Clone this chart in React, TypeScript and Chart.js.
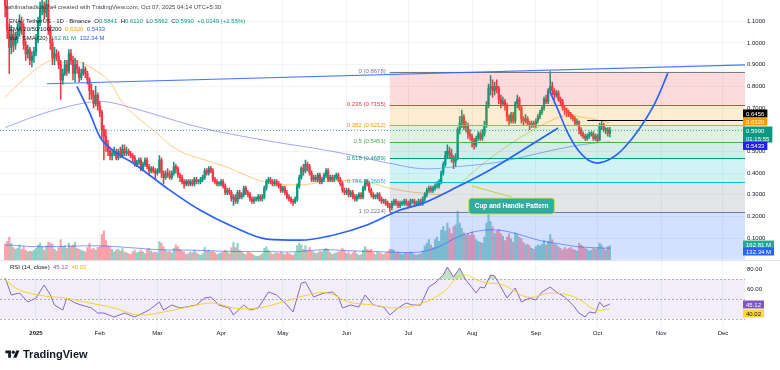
import React, { useEffect, useRef } from 'react';
import { Chart, registerables } from 'chart.js';
Chart.register(...registerables);

const FF = '"Liberation Sans", Arial, sans-serif';

// ---------- DATA ----------
// first candle = Dec 17, 2024 (day -15 relative to Jan 1, 2025)
const FIRST_DAY = -15;
const firstOpen = 1.25;
const closes = [
  // Dec 17-31
  1.17,1.06,0.98,1.04,0.99,1.02,1.05,1.10,1.07,0.99,0.95,0.97,0.92,0.94,0.96,
  // Jan
  1.02,1.10,1.16,1.17,1.14,1.18,1.06,1.00,0.93,0.95,0.94,0.90,0.83,0.86,0.90,0.87,0.95,0.92,0.86,0.90,0.88,0.84,0.86,0.88,0.86,0.83,0.78,0.76,0.72,0.76,0.71,
  // Feb
  0.68,0.60,0.57,0.53,0.50,0.48,0.49,0.50,0.47,0.50,0.48,0.51,0.49,0.50,0.49,0.48,0.47,0.44,0.45,0.46,0.42,0.44,0.46,0.43,0.41,0.42,0.41,0.40,
  // Mar
  0.41,0.46,0.40,0.38,0.40,0.39,0.38,0.40,0.43,0.42,0.39,0.38,0.36,0.35,0.36,0.35,0.36,0.35,0.37,0.36,0.36,0.37,0.38,0.41,0.40,0.42,0.41,0.37,0.36,0.35,0.35,
  // Apr
  0.36,0.34,0.31,0.32,0.31,0.28,0.29,0.27,0.31,0.29,0.30,0.33,0.31,0.30,0.28,0.27,0.28,0.28,0.29,0.28,0.29,0.33,0.36,0.37,0.36,0.35,0.36,0.35,0.34,0.32,
  // May
  0.33,0.31,0.29,0.28,0.27,0.265,0.28,0.34,0.38,0.42,0.41,0.44,0.43,0.40,0.37,0.38,0.37,0.39,0.36,0.37,0.39,0.41,0.37,0.38,0.37,0.38,0.39,0.37,0.35,0.32,0.31,
  // Jun
  0.32,0.30,0.31,0.29,0.28,0.29,0.30,0.29,0.33,0.36,0.35,0.32,0.30,0.29,0.29,0.30,0.28,0.27,0.27,0.26,0.25,0.24,0.26,0.27,0.26,0.25,0.26,0.26,0.27,0.26,
  // Jul
  0.25,0.27,0.27,0.26,0.26,0.27,0.26,0.28,0.30,0.32,0.33,0.32,0.33,0.34,0.34,0.36,0.40,0.44,0.48,0.50,0.49,0.47,0.45,0.47,0.60,0.63,0.66,0.61,0.62,0.58,0.57,
  // Aug
  0.55,0.53,0.56,0.58,0.56,0.58,0.62,0.71,0.79,0.80,0.78,0.80,0.79,0.74,0.72,0.73,0.71,0.66,0.64,0.67,0.64,0.72,0.74,0.70,0.65,0.64,0.65,0.63,0.62,0.63,0.62,
  // Sep
  0.64,0.66,0.68,0.70,0.74,0.73,0.78,0.80,0.78,0.76,0.77,0.74,0.73,0.70,0.69,0.68,0.67,0.66,0.65,0.63,0.64,0.60,0.58,0.57,0.56,0.57,0.58,0.58,0.56,0.57,
  // Oct 1-7
  0.55,0.62,0.62,0.60,0.60,0.5841,0.599,
];
const highs = [
  1.30,1.20,1.09,1.08,1.06,1.05,1.09,1.13,1.12,1.09,1.01,0.99,0.98,0.96,0.98,
  1.04,1.12,1.19,1.21,1.19,1.22,1.20,1.08,1.02,0.98,0.97,0.96,0.92,0.88,0.92,0.92,0.97,0.97,0.94,0.93,0.92,0.89,0.88,0.91,0.89,0.87,0.84,0.81,0.78,0.80,0.77,
  0.73,0.69,0.62,0.60,0.55,0.52,0.51,0.52,0.51,0.51,0.52,0.53,0.53,0.52,0.51,0.50,0.49,0.48,0.46,0.47,0.47,0.45,0.47,0.47,0.44,0.43,0.43,0.42,
  0.42,0.48,0.47,0.41,0.41,0.42,0.41,0.41,0.45,0.44,0.43,0.40,0.39,0.37,0.37,0.37,0.37,0.37,0.38,0.38,0.37,0.38,0.39,0.42,0.42,0.43,0.43,0.42,0.38,0.37,0.36,
  0.37,0.37,0.35,0.33,0.33,0.32,0.30,0.30,0.32,0.32,0.31,0.34,0.34,0.32,0.31,0.29,0.29,0.29,0.30,0.30,0.30,0.34,0.37,0.38,0.38,0.37,0.37,0.37,0.36,0.35,
  0.34,0.34,0.32,0.30,0.29,0.28,0.29,0.35,0.39,0.43,0.44,0.46,0.45,0.44,0.41,0.39,0.39,0.40,0.40,0.38,0.40,0.42,0.42,0.39,0.39,0.39,0.40,0.40,0.38,0.36,0.33,
  0.33,0.33,0.32,0.32,0.30,0.30,0.31,0.31,0.34,0.37,0.37,0.36,0.33,0.31,0.30,0.31,0.31,0.29,0.28,0.28,0.27,0.26,0.27,0.28,0.28,0.27,0.27,0.27,0.28,0.28,
  0.27,0.28,0.28,0.28,0.27,0.28,0.28,0.29,0.31,0.33,0.34,0.34,0.34,0.35,0.36,0.37,0.41,0.45,0.50,0.53,0.52,0.51,0.48,0.49,0.61,0.66,0.69,0.67,0.64,0.63,0.60,
  0.58,0.56,0.57,0.59,0.59,0.60,0.64,0.73,0.81,0.85,0.83,0.82,0.83,0.80,0.76,0.75,0.74,0.72,0.67,0.68,0.68,0.73,0.76,0.75,0.71,0.66,0.67,0.66,0.64,0.64,0.64,
  0.65,0.67,0.69,0.71,0.75,0.76,0.79,0.8678,0.82,0.79,0.78,0.78,0.75,0.74,0.71,0.70,0.69,0.68,0.67,0.66,0.65,0.64,0.61,0.59,0.58,0.58,0.59,0.59,0.59,0.58,
  0.58,0.63,0.64,0.63,0.61,0.61,0.611,
];
const lows = [
  1.12,1.02,0.86,0.95,0.96,0.97,1.00,1.03,1.04,0.97,0.92,0.93,0.90,0.89,0.91,
  0.94,1.00,1.08,1.13,1.11,1.12,1.04,0.97,0.90,0.90,0.92,0.88,0.74,0.81,0.85,0.85,0.86,0.90,0.83,0.82,0.86,0.82,0.83,0.85,0.84,0.81,0.74,0.74,0.70,0.71,0.69,
  0.66,0.56,0.46,0.50,0.48,0.46,0.46,0.48,0.46,0.46,0.47,0.47,0.48,0.48,0.48,0.47,0.45,0.43,0.43,0.44,0.41,0.41,0.43,0.42,0.39,0.40,0.40,0.37,
  0.39,0.40,0.38,0.35,0.37,0.38,0.37,0.37,0.39,0.40,0.38,0.36,0.35,0.33,0.34,0.34,0.34,0.34,0.34,0.35,0.35,0.35,0.36,0.37,0.39,0.39,0.40,0.36,0.35,0.34,0.34,
  0.34,0.33,0.30,0.30,0.30,0.27,0.25,0.26,0.26,0.28,0.28,0.29,0.30,0.29,0.27,0.26,0.26,0.27,0.27,0.27,0.27,0.28,0.32,0.35,0.35,0.34,0.34,0.34,0.33,0.31,
  0.31,0.30,0.28,0.27,0.26,0.25,0.26,0.27,0.33,0.37,0.39,0.40,0.41,0.39,0.36,0.36,0.36,0.36,0.35,0.35,0.36,0.38,0.36,0.36,0.36,0.36,0.37,0.36,0.34,0.31,0.30,
  0.30,0.29,0.29,0.28,0.27,0.27,0.28,0.28,0.28,0.32,0.34,0.31,0.29,0.28,0.28,0.28,0.27,0.26,0.26,0.25,0.24,0.2224,0.23,0.25,0.25,0.24,0.24,0.25,0.25,0.25,
  0.24,0.24,0.26,0.25,0.25,0.25,0.25,0.25,0.27,0.29,0.31,0.31,0.31,0.32,0.33,0.33,0.35,0.39,0.43,0.47,0.47,0.45,0.42,0.43,0.46,0.58,0.61,0.60,0.59,0.56,0.55,
  0.52,0.51,0.52,0.55,0.55,0.55,0.57,0.61,0.70,0.76,0.75,0.76,0.77,0.72,0.70,0.71,0.69,0.64,0.62,0.63,0.63,0.63,0.70,0.69,0.63,0.62,0.63,0.62,0.60,0.61,0.61,
  0.61,0.63,0.65,0.67,0.69,0.72,0.72,0.77,0.76,0.74,0.75,0.73,0.71,0.69,0.67,0.66,0.66,0.65,0.64,0.62,0.62,0.58,0.57,0.56,0.55,0.55,0.56,0.57,0.55,0.55,
  0.54,0.55,0.60,0.59,0.58,0.57,0.5662,
];
// volume, millions of ENA
const volumes = [
  180,210,260,190,140,120,130,170,120,150,110,90,100,95,110,
  130,170,190,150,110,160,200,190,180,120,100,140,230,150,160,130,190,150,170,200,130,120,110,100,90,140,190,120,130,110,140,
  150,290,330,220,160,150,120,90,110,120,100,130,90,80,70,60,90,110,80,90,110,90,70,120,130,100,80,90,
  80,210,190,150,110,90,100,80,130,170,150,120,100,90,60,70,90,80,110,80,60,50,70,140,100,110,90,100,80,60,70,
  80,90,110,90,70,140,200,140,190,110,90,70,60,90,80,70,50,40,40,50,70,130,150,110,80,60,70,80,70,90,
  70,60,80,70,60,50,80,160,190,170,120,160,110,140,100,90,70,80,100,90,120,130,120,80,60,70,80,90,100,130,100,
  70,90,60,80,100,70,50,60,110,150,120,110,120,80,60,90,80,70,60,80,90,120,120,110,80,90,70,60,70,80,
  80,90,80,60,50,60,70,100,160,190,230,170,140,230,260,210,340,380,330,420,360,300,380,400,560,420,360,310,280,300,280,
  320,280,230,210,200,190,260,420,520,440,380,300,330,350,300,270,220,260,300,240,200,310,290,260,240,200,170,180,160,130,120,
  150,170,160,180,220,170,210,290,230,180,170,150,130,110,140,120,130,140,120,110,100,190,170,150,130,120,100,110,130,120,
  140,190,170,130,110,150,162.81,
];
const volSmaDays = [-15,0,15,31,45,60,75,95,110,125,140,155,170,185,195,205,215,225,235,245,255,265,279];
const volSmaVals = [170,150,155,160,140,115,110,95,95,90,115,100,90,85,140,260,330,340,290,220,180,145,132.34];

const ema50Days = [-15,-5,7,12,20,31,36,43,58,69,82,92,102,111,128,145,162,172,188,200,212,221,230,240,250,258,267,279];
const ema50Vals = [0.75,0.84,0.92,0.91,0.915,0.86,0.82,0.714,0.59,0.506,0.46,0.43,0.39,0.36,0.345,0.365,0.355,0.33,0.307,0.31,0.40,0.47,0.53,0.59,0.64,0.665,0.655,0.632];
const ema200Days = [-15,2,15,25,33,47,80,112,144,172,188,205,221,230,244,256,270,279];
const ema200Vals = [0.61,0.67,0.705,0.725,0.73,0.70,0.61,0.55,0.50,0.445,0.42,0.43,0.445,0.46,0.49,0.515,0.537,0.5433];

const rsiDays = [-15,-12,-8,-4,0,4,7,9,13,15,19,22,27,30,33,38,43,48,50,55,60,62,66,70,73,78,82,85,89,94,96,101,104,108,113,117,122,125,129,131,135,140,144,147,149,153,157,160,164,169,172,176,180,183,187,191,194,198,200,203,206,209,211,214,216,218,221,223,226,229,233,236,240,243,246,250,253,257,261,264,267,269,272,274,276,279];
const rsiVals = [71,54,56,47,51,64,54,44,39,51,46,44,41,36,36,32,36,32,34,39,47,39,44,41,42,44,51,52,44,41,34,44,39,41,57,54,44,37,66,67,52,56,57,52,41,44,42,54,44,42,34,41,46,44,44,62,66,74,82,72,81,69,64,56,62,61,74,73,62,51,61,47,51,49,57,62,57,52,44,36,32,37,36,47,42,45.12];
const rsiMaDays = [-15,-8,4,14,26,38,50,62,74,86,96,108,120,132,142,152,164,176,188,198,207,217,227,239,251,263,272,279];
const rsiMaVals = [69,59,53,51,46,41,34,37,42,46,41,41,47,54,56,47,44,41,46,57,74,67,64,52,56,51,39,40.02];

const fibRatios = [0, 0.236, 0.382, 0.5, 0.618, 0.786, 1, 1.618];
const fibPrices = [0.8678, 0.7155, 0.6212, 0.5451, 0.4689, 0.3605, 0.2224, -0.1765];
const fibStartDay = 172;

const trendDays = [5.3, 344.7];
const trendVals = [0.812, 0.899];
const cupDays = [19.9, 26, 31.1, 38, 47.2, 63.7, 79.7, 95.8, 112.3, 128.3, 144.4, 160.9, 177, 188.1, 204.7, 220.7, 230.4, 253.8];
const cupVals = [0.80, 0.68, 0.566, 0.50, 0.446, 0.33, 0.229, 0.152, 0.095, 0.09, 0.113, 0.16, 0.229, 0.26, 0.335, 0.414, 0.469, 0.608];
const handleDays = [249.9, 253.8, 258.6, 263.5, 268.4, 273.2, 280, 286.3, 293.6, 300.9, 307.2];
const handleVals = [0.774, 0.691, 0.584, 0.506, 0.46, 0.446, 0.469, 0.52, 0.608, 0.723, 0.861];
const arrowDays = [212, 231.4];
const arrowVals = [0.34, 0.289];
const hLineStartDay = 268;
const hLinePrice = 0.6456;
const lastPrice = 0.599;
const ema50Last = 0.632;
const ema200Last = 0.5433;
const volLast = 162.81;
const volSmaLast = 132.34;
const rsiLast = 45.12;
const rsiMaLast = 40.02;

const monthDays = [0, 31, 59, 90, 120, 151, 181, 212, 243, 273, 304, 334];
const monthLabels = ['2025', 'Feb', 'Mar', 'Apr', 'May', 'Jun', 'Jul', 'Aug', 'Sep', 'Oct', 'Nov', 'Dec'];
const priceTicks = [0.1, 0.2, 0.3, 0.4, 0.5, 0.6, 0.7, 0.8, 0.9, 1.0, 1.1];
const rsiTicks = [60, 80];

// ---------- STYLE ----------
const UP = '#089981';
const DOWN = '#f23645';
const fibLineColors = ['#787b86', '#f23645', '#ff9800', '#4caf50', '#089981', '#00bcd4', '#787b86'];
const fibFills = [
  'rgba(242,54,69,0.18)', 'rgba(255,152,0,0.18)', 'rgba(76,175,80,0.18)', 'rgba(8,153,129,0.18)',
  'rgba(0,188,212,0.18)', 'rgba(120,123,134,0.2)', 'rgba(41,98,255,0.2)',
];

const pts = (xs: number[], ys: number[]) => xs.map((x, i) => ({ x, y: ys[i] }));

function drawTag(ctx: CanvasRenderingContext2D, x: number, yc: number, text: string, bg: string, fg: string) {
  ctx.font = `6px ${FF}`;
  const w = ctx.measureText(text).width + 6;
  ctx.fillStyle = bg;
  ctx.fillRect(x, yc - 4, w, 8);
  ctx.fillStyle = fg;
  ctx.textAlign = 'left';
  ctx.textBaseline = 'middle';
  ctx.fillText(text, x + 3, yc + 0.5);
}

function drawFib(chart: any) {
  const { ctx, chartArea: ca, scales } = chart;
  const x = scales.x, y = scales.y;
  ctx.save();
  ctx.beginPath();
  ctx.rect(ca.left, y.top, ca.right - ca.left, y.bottom - y.top);
  ctx.clip();
  const x0 = x.getPixelForValue(fibStartDay);
  for (let i = 0; i < fibPrices.length - 1; i++) {
    const ya = y.getPixelForValue(fibPrices[i]);
    const yb = y.getPixelForValue(fibPrices[i + 1]);
    ctx.fillStyle = fibFills[i];
    ctx.fillRect(x0, ya, ca.right - x0, yb - ya);
  }
  ctx.lineWidth = 1;
  for (let i = 0; i < fibLineColors.length; i++) {
    const yy = Math.round(y.getPixelForValue(fibPrices[i])) + 0.5;
    ctx.strokeStyle = fibLineColors[i];
    ctx.beginPath(); ctx.moveTo(x0, yy); ctx.lineTo(ca.right, yy); ctx.stroke();
  }
  // current price dotted line
  const yp = Math.round(y.getPixelForValue(lastPrice)) + 0.5;
  ctx.setLineDash([1, 2]);
  ctx.strokeStyle = 'rgba(8,153,129,0.7)';
  ctx.beginPath(); ctx.moveTo(ca.left, yp); ctx.lineTo(ca.right, yp); ctx.stroke();
  ctx.setLineDash([]);
  // black horizontal line
  const yh = Math.round(y.getPixelForValue(hLinePrice)) + 0.5;
  ctx.strokeStyle = '#000000';
  ctx.lineWidth = 1.2;
  ctx.beginPath(); ctx.moveTo(x.getPixelForValue(hLineStartDay), yh); ctx.lineTo(ca.right, yh); ctx.stroke();
  ctx.restore();
}

const overlay = {
  id: 'overlay',
  beforeDatasetsDraw(chart: any) {
    const { ctx, chartArea: ca, scales } = chart;
    const yR = scales.yR;
    ctx.save();
    const t = yR.getPixelForValue(70), b = yR.getPixelForValue(30);
    ctx.fillStyle = 'rgba(126,87,194,0.1)';
    ctx.fillRect(ca.left, t, ca.right - ca.left, b - t);
    ctx.setLineDash([2, 2]);
    ctx.strokeStyle = 'rgba(120,123,134,0.55)';
    ctx.lineWidth = 1;
    [70, 50, 30].forEach((v) => {
      const yy = Math.round(yR.getPixelForValue(v)) + 0.5;
      ctx.beginPath(); ctx.moveTo(ca.left, yy); ctx.lineTo(ca.right, yy); ctx.stroke();
    });
    ctx.setLineDash([]);
    ctx.strokeStyle = '#e0e3eb';
    const ys = Math.round(scales.y.bottom) + 0.5;
    ctx.beginPath(); ctx.moveTo(ca.left, ys); ctx.lineTo(chart.width, ys); ctx.stroke();
    ctx.restore();
  },
  beforeDatasetDraw(chart: any, args: any) {
    const ds = chart.data.datasets[args.index];
    if (ds && ds.id === 'trend') drawFib(chart);
  },
  afterDatasetsDraw(chart: any) {
    const { ctx, chartArea: ca, scales } = chart;
    const x = scales.x, y = scales.y, yV = scales.yV, yR = scales.yR;
    ctx.save();
    // fib labels
    const x0 = x.getPixelForValue(fibStartDay);
    ctx.font = `6px ${FF}`;
    ctx.textAlign = 'right';
    ctx.textBaseline = 'middle';
    for (let i = 0; i < fibLineColors.length; i++) {
      ctx.fillStyle = fibLineColors[i];
      ctx.fillText(`${fibRatios[i]} (${fibPrices[i].toFixed(4)})`, x0 - 4, y.getPixelForValue(fibPrices[i]));
    }
    // pattern label
    const text = 'Cup and Handle Pattern';
    ctx.font = `bold 6.5px ${FF}`;
    const tw = ctx.measureText(text).width;
    const bw = tw + 12, bh = 16;
    const cx = x.getPixelForValue(231.2), cy = y.getPixelForValue(0.2475);
    ctx.beginPath();
    ctx.roundRect(cx - bw / 2, cy - bh / 2, bw, bh, 3);
    ctx.fillStyle = 'rgba(38,166,154,0.92)';
    ctx.fill();
    ctx.strokeStyle = '#d4e157';
    ctx.lineWidth = 1;
    ctx.stroke();
    ctx.fillStyle = '#ffffff';
    ctx.textAlign = 'center';
    ctx.fillText(text, cx, cy + 0.5);

    // axis tags
    const tx = ca.right - 2;
    drawTag(ctx, tx, y.getPixelForValue(hLinePrice) - 6.3, hLinePrice.toFixed(4), '#000000', '#ffffff');
    drawTag(ctx, tx, y.getPixelForValue(ema50Last) - 1.2, ema50Last.toFixed(4), '#ff9800', '#ffffff');
    // last price tag with countdown
    const yl = y.getPixelForValue(lastPrice) + 0.6;
    ctx.font = `6px ${FF}`;
    const lw = ctx.measureText('01:15:55').width + 6;
    ctx.fillStyle = UP;
    ctx.fillRect(tx, yl - 4, lw, 16);
    ctx.fillStyle = '#ffffff';
    ctx.textAlign = 'left';
    ctx.fillText(lastPrice.toFixed(4), tx + 3, yl + 0.5);
    ctx.fillText('01:15:55', tx + 3, yl + 8.5);
    drawTag(ctx, tx, y.getPixelForValue(ema200Last) + 4, ema200Last.toFixed(4), '#1f1fff', '#ffffff');
    // volume tags
    drawTag(ctx, tx, yV.getPixelForValue(volLast) - 1, `${volLast.toFixed(2)} M`, '#22ab94', '#ffffff');
    drawTag(ctx, tx, yV.getPixelForValue(volSmaLast) + 3.3, `${volSmaLast.toFixed(2)} M`, '#2962ff', '#ffffff');
    // rsi tags
    drawTag(ctx, tx, yR.getPixelForValue(rsiLast) + 0.6, rsiLast.toFixed(2), '#7e57c2', '#ffffff');
    drawTag(ctx, tx, yR.getPixelForValue(rsiMaLast) + 4.5, rsiMaLast.toFixed(2), '#fdd835', '#131722');
    ctx.restore();
  },
};

export default function App() {
  const ref = useRef<HTMLCanvasElement>(null);
  useEffect(() => {
    const canvas = ref.current;
    if (!canvas) return;
    const n = closes.length;
    const days = closes.map((_, i) => FIRST_DAY + i);
    const opens = closes.map((c, i) => (i === 0 ? firstOpen : closes[i - 1]));
    const isUp = closes.map((c, i) => c >= opens[i]);
    const candleColors = isUp.map((u) => (u ? UP : DOWN));
    const volColors = isUp.map((u) => (u ? 'rgba(8,153,129,0.45)' : 'rgba(242,54,69,0.45)'));

    const chart = new Chart(canvas, {
      type: 'bar',
      data: {
        datasets: [
          {
            type: 'bar', label: 'vol', yAxisID: 'yV', order: 10, grouped: false,
            data: volumes.slice(0, n).map((v, i) => ({ x: days[i], y: v })),
            backgroundColor: volColors, barThickness: 1.5, borderWidth: 0,
          },
          {
            type: 'line', label: 'volSma', yAxisID: 'yV', order: 9,
            data: pts(volSmaDays, volSmaVals), borderColor: 'rgba(41,98,255,0.75)', borderWidth: 0.8,
            pointRadius: 0, tension: 0.35,
          },
          {
            type: 'line', label: 'ema200', yAxisID: 'y', order: 8,
            data: pts(ema200Days, ema200Vals), borderColor: 'rgba(90,90,255,0.55)', borderWidth: 1,
            pointRadius: 0, tension: 0.4,
          },
          {
            type: 'line', label: 'ema50', yAxisID: 'y', order: 7,
            data: pts(ema50Days, ema50Vals), borderColor: 'rgba(255,152,0,0.5)', borderWidth: 1,
            pointRadius: 0, tension: 0.4,
          },
          {
            type: 'bar', label: 'wicks', yAxisID: 'y', order: 6, grouped: false,
            data: days.map((d, i) => ({ x: d, y: [lows[i], highs[i]] })),
            backgroundColor: candleColors, barThickness: 0.9, borderWidth: 0,
          },
          {
            type: 'bar', label: 'bodies', yAxisID: 'y', order: 5, grouped: false,
            data: days.map((d, i) => ({ x: d, y: [opens[i], closes[i]] })),
            backgroundColor: candleColors, barThickness: 1.6, borderWidth: 0, minBarLength: 1,
          },
          {
            type: 'line', id: 'trend', label: 'trend', yAxisID: 'y', order: 4,
            data: pts(trendDays, trendVals), borderColor: 'rgba(41,98,255,0.85)', borderWidth: 1.2,
            pointRadius: 0,
          },
          {
            type: 'line', label: 'cup', yAxisID: 'y', order: 3,
            data: pts(cupDays, cupVals), borderColor: '#2962ff', borderWidth: 1.7,
            pointRadius: 0, cubicInterpolationMode: 'monotone',
          },
          {
            type: 'line', label: 'handle', yAxisID: 'y', order: 3,
            data: pts(handleDays, handleVals), borderColor: '#2962ff', borderWidth: 1.7,
            pointRadius: 0, tension: 0.4,
          },
          {
            type: 'line', label: 'arrow', yAxisID: 'y', order: 3,
            data: pts(arrowDays, arrowVals), borderColor: '#b8d43a', borderWidth: 1,
            pointRadius: 0,
          },
          {
            type: 'line', label: 'rsi', yAxisID: 'yR', order: 2,
            data: pts(rsiDays, rsiVals), borderColor: '#7e57c2', borderWidth: 0.9,
            pointRadius: 0, tension: 0,
            fill: { target: { value: 70 }, above: 'rgba(76,175,80,0.35)', below: 'rgba(0,0,0,0)' },
          },
          {
            type: 'line', label: 'rsiMa', yAxisID: 'yR', order: 1,
            data: pts(rsiMaDays, rsiMaVals), borderColor: '#f5d22e', borderWidth: 1,
            pointRadius: 0, tension: 0.4,
          },
        ] as any,
      },
      options: {
        animation: false,
        responsive: false,
        maintainAspectRatio: false,
        events: [],
        layout: { padding: { left: 0, right: 0, top: 0, bottom: 28 } },
        plugins: { legend: { display: false }, tooltip: { enabled: false } },
        scales: {
          x: {
            type: 'linear', position: 'bottom', min: -17.5, max: 344.7, offset: false,
            afterBuildTicks: (s: any) => { s.ticks = monthDays.map((v) => ({ value: v })); },
            afterFit: (s: any) => { s.height = 16; s.paddingLeft = 0; s.paddingRight = 0; },
            grid: { color: '#f0f3fa', drawTicks: false, offset: false },
            border: { display: false },
            ticks: {
              autoSkip: false, maxRotation: 0, padding: 4, color: '#131722',
              font: (c: any) => ({ family: FF, size: 6, weight: c.index === 0 ? 'bold' : 'normal' }),
              callback: (_v: any, i: number) => monthLabels[i],
            },
          },
          y: {
            type: 'linear', position: 'right', stack: 'pane', stackWeight: 259.7, min: 0, max: 1.1984,
            afterBuildTicks: (s: any) => { s.ticks = priceTicks.map((v) => ({ value: v })); },
            afterFit: (s: any) => { s.width = 35; s.paddingTop = 0; s.paddingBottom = 0; },
            grid: { color: '#f0f3fa', drawTicks: false },
            border: { display: false },
            ticks: { padding: 2, color: '#131722', font: { family: FF, size: 6 }, callback: (v: any) => Number(v).toFixed(4) },
          },
          yR: {
            type: 'linear', position: 'right', stack: 'pane', stackWeight: 66.3, min: 23, max: 89.3,
            afterBuildTicks: (s: any) => { s.ticks = rsiTicks.map((v) => ({ value: v })); },
            afterFit: (s: any) => { s.width = 35; s.paddingTop = 0; s.paddingBottom = 0; },
            grid: { display: false, drawTicks: false },
            border: { display: false },
            ticks: { padding: 2, color: '#131722', font: { family: FF, size: 6 }, callback: (v: any) => Number(v).toFixed(2) },
          },
          yV: { type: 'linear', display: false, min: -762, max: 2985 },
        },
      } as any,
      plugins: [overlay as any],
    });
    return () => chart.destroy();
  }, []);

  const txt: React.CSSProperties = { fontFamily: FF, fontSize: 6, lineHeight: '8px', color: '#131722', whiteSpace: 'pre', position: 'absolute' };
  const g = { color: UP };
  return (
    <div style={{ position: 'fixed', left: 0, top: 0, width: 780, height: 370, background: '#ffffff', overflow: 'hidden' }}>
      <canvas ref={ref} width={780} height={370} style={{ position: 'absolute', left: 0, top: 0, width: 780, height: 370 }} />
      <div style={{ ...txt, left: 5, top: 3, color: '#434651' }}>sahilmahadiidio7a4 created with TradingView.com, Oct 07, 2025 04:14 UTC+5:30</div>
      <div style={{ ...txt, left: 9, top: 17 }}>
        {'ENA / TetherUS · 1D · Binance  O'}<span style={g}>0.5841</span>{'  H'}<span style={g}>0.6110</span>{'  L'}<span style={g}>0.5662</span>{'  C'}<span style={g}>0.5990</span>{'  '}<span style={g}>+0.0149 (+2.55%)</span>
      </div>
      <div style={{ ...txt, left: 9, top: 25 }}>
        {'EMA 20/50/100/200  '}<span style={{ color: '#ff9800' }}>0.6320</span>{'  '}<span style={{ color: '#2962ff' }}>0.5433</span>
      </div>
      <div style={{ ...txt, left: 9, top: 33.5 }}>
        {'Vol · SMA (20)  '}<span style={g}>162.81 M</span>{'  '}<span style={{ color: '#2962ff' }}>132.34 M</span>
      </div>
      <div style={{ ...txt, left: 10, top: 263 }}>
        {'RSI (14, close)  '}<span style={{ color: '#7e57c2' }}>45.12</span>{'  '}<span style={{ color: '#e6b800' }}>40.02</span>
      </div>
      <div style={{ position: 'absolute', left: 5, top: 348, display: 'flex', alignItems: 'center', gap: 3 }}>
        <svg width="15" height="11" viewBox="0 0 36 28">
          <path d="M14 22H7V11H0V4h14v18zM28 22h-8l7.5-18h8L28 22z" fill="#131722" />
          <circle cx="20" cy="8" r="4" fill="#131722" />
        </svg>
        <span style={{ fontFamily: FF, fontWeight: 'bold', fontSize: 11, color: '#131722', lineHeight: '12px' }}>TradingView</span>
      </div>
    </div>
  );
}
